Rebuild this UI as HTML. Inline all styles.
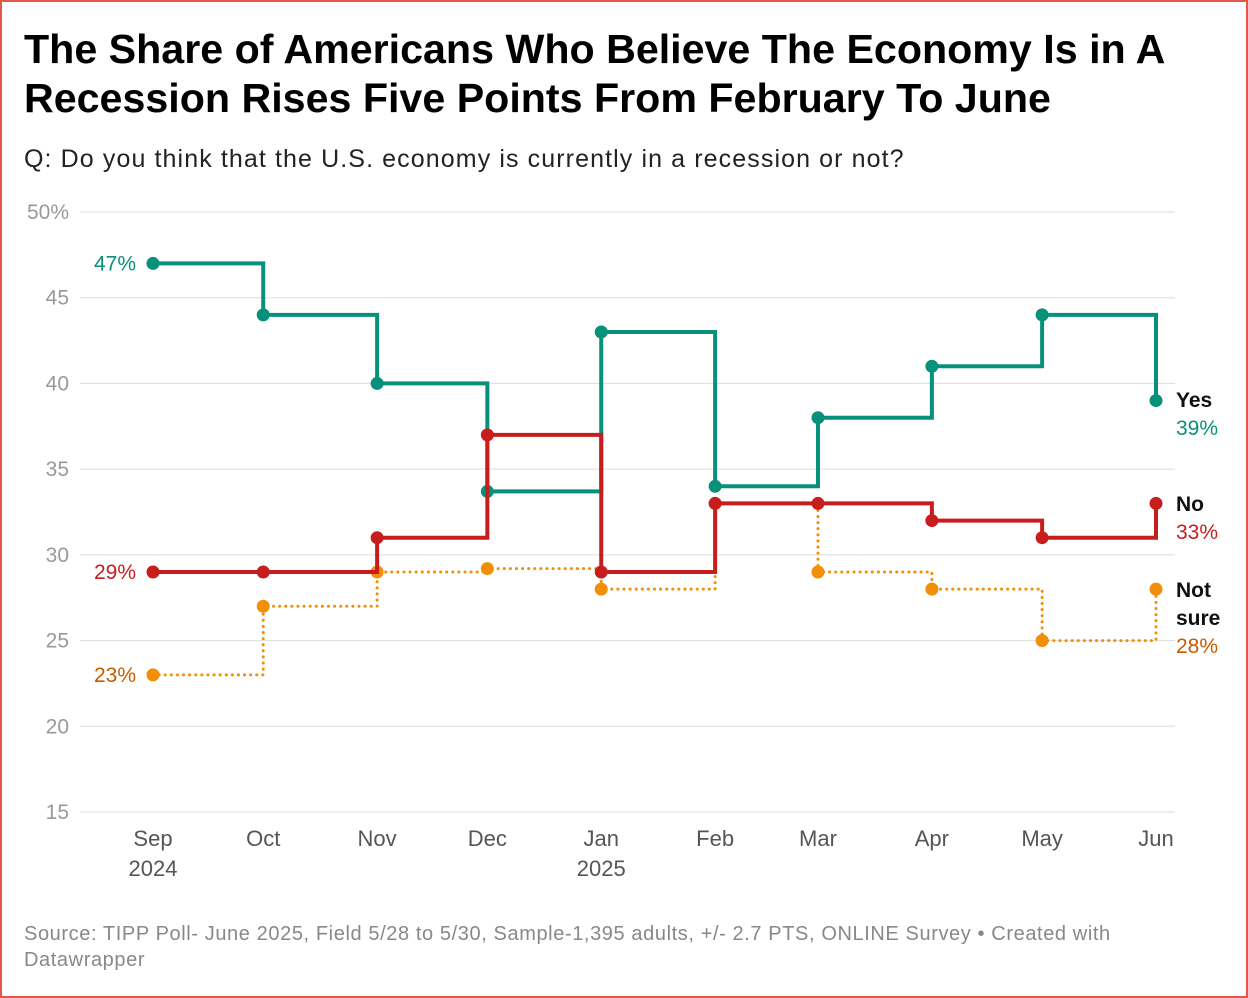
<!DOCTYPE html>
<html><head><meta charset="utf-8"><style>
body{margin:0;background:#fff;font-family:"Liberation Sans",sans-serif}
#frame{position:absolute;left:0;top:0;width:1244px;height:994px;border:2px solid #e5564b;background:#fff}
h1{position:absolute;left:24px;top:25px;margin:0;font-size:41.2px;line-height:49px;font-weight:bold;color:#000;letter-spacing:0px;white-space:nowrap}
#sub{position:absolute;left:24px;top:145px;font-size:25px;color:#222;letter-spacing:1.1px;white-space:nowrap}
#src{position:absolute;left:24px;top:921px;font-size:20px;line-height:26px;color:#888;width:1110px;letter-spacing:0.6px}
svg{position:absolute;left:0;top:0}
</style></head><body>
<div id="frame"></div>
<h1>The Share of Americans Who Believe The Economy Is in A<br>Recession Rises Five Points From February To June</h1>
<div id="sub">Q: Do you think that the U.S. economy is currently in a recession or not?</div>
<svg id="chart" width="1248" height="998"></svg>
<div id="src">Source: TIPP Poll- June 2025, Field 5/28 to 5/30, Sample-1,395 adults, +/- 2.7 PTS, ONLINE Survey • Created with Datawrapper</div>
<script>
const months=["Sep","Oct","Nov","Dec","Jan","Feb","Mar","Apr","May","Jun"];
const years=["2024","","","","2025","","","","",""];
const dayOffsets=[0,30,61,91,122,153,181,212,242,273];
const yesVals=[47,44,40,33.7,43,34,38,41,44,39];
const noVals=[29,29,31,37,29,33,33,32,31,33];
const notSureVals=[23,27,29,29.2,28,33,29,28,25,28];
const yTicks=[15,20,25,30,35,40,45,50];
const NS="http://www.w3.org/2000/svg";
const svg=document.getElementById('chart');
const x=d=>153+d*(1003/273);
const y=v=>812-(v-15)*(600/35);
function mk(t,a){const e=document.createElementNS(NS,t);for(const k in a)e.setAttribute(k,a[k]);svg.appendChild(e);return e;}
yTicks.forEach(t=>{
  const l=mk('line',{x1:80,x2:1175,y1:y(t),y2:y(t),stroke:'#ddd','stroke-width':1});
  
  
  const tx=mk('text',{x:69,y:y(t)+7,'text-anchor':'end','font-size':21,fill:'#999'});
  tx.textContent=t===50?'50%':t;
  
  
});
months.forEach((m,i)=>{
  const t=mk('text',{x:x(dayOffsets[i]),y:846,'text-anchor':'middle','font-size':22,fill:'#555'});
  t.textContent=m;
  
  
  if(years[i]){const t2=mk('text',{x:x(dayOffsets[i]),y:876,'text-anchor':'middle','font-size':22,fill:'#555'});t2.textContent=years[i];
  
  }
});
function series(vals,color,dash,name){
  let d='M'+x(dayOffsets[0])+','+y(vals[0]);
  for(let i=1;i<vals.length;i++){d+=' H'+x(dayOffsets[i])+' V'+y(vals[i]);}
  const p=mk('path',{d:d,fill:'none',stroke:color,'stroke-width':dash?3:4,'stroke-dasharray':dash?'0.1,6':'none','stroke-linecap':'round'});
  
  
  vals.forEach((v,i)=>{const c=mk('circle',{cx:x(dayOffsets[i]),cy:y(v),r:6.5,fill:color});
  
  });
}
series(notSureVals,'#f28e07',true,'not-sure');
series(yesVals,'#08917a',false,'yes');
series(noVals,'#c71e1d',false,'no');
function lab(txt,xx,yy,color,anchor,bold,name){const t=mk('text',{x:xx,y:yy,'text-anchor':anchor,'font-size':21,fill:color,'font-weight':bold?'bold':'normal'});t.textContent=txt;

}
lab(yesVals[0]+'%',136,y(yesVals[0])+7,'#08917a','end',false,'yes-start-label');
lab(noVals[0]+'%',136,y(noVals[0])+7,'#c71e1d','end',false,'no-start-label');
lab(notSureVals[0]+'%',136,y(notSureVals[0])+7,'#c85a00','end',false,'not-sure-start-label');
lab('Yes',1176,407,'#111','start',true,'yes-legend');
lab(yesVals[9]+'%',1176,435,'#08917a','start',false,'yes-end-label');
lab('No',1176,511,'#111','start',true,'no-legend');
lab(noVals[9]+'%',1176,539,'#c71e1d','start',false,'no-end-label');
lab('Not',1176,597,'#111','start',true,'not-sure-legend');
lab('sure',1176,625,'#111','start',true,'not-sure-legend-2');
lab(notSureVals[9]+'%',1176,653,'#c85a00','start',false,'not-sure-end-label');
</script>
</body></html>
